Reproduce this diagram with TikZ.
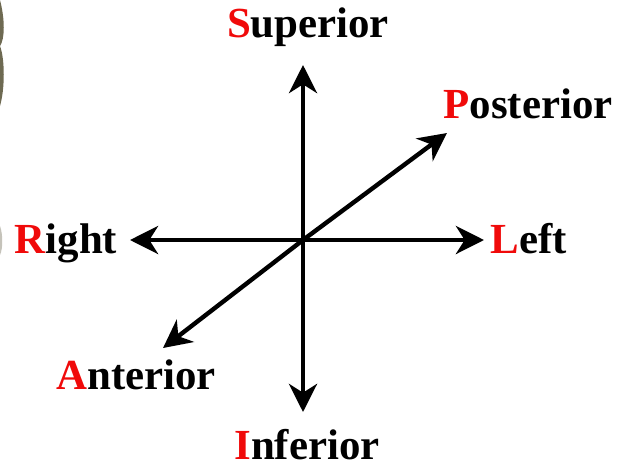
\documentclass[tikz,border=0pt]{standalone}
\usepackage{fontspec}
\setmainfont{Liberation Serif}
\definecolor{axred}{HTML}{F00A0A}
\definecolor{edgeolive}{HTML}{6E6A52}
\usetikzlibrary{arrows.meta}

\begin{document}
\begin{tikzpicture}[
      axis/.style={-{Stealth[length=8pt, width=8pt, inset=2.5pt]}, line width=1.25pt},
      lbl/.style={anchor=base, inner sep=0pt, font=\fontsize{12.2pt}{14pt}\selectfont\bfseries}
    ]
      \useasboundingbox (0,0) rectangle (6.21,4.64);
      % scraps along the left edge
      \fill[edgeolive] (0,4.64) .. controls (0.05,4.45) and (0.05,4.25) .. (0,4.18)
        .. controls (0.05,4.05) and (0.05,3.75) .. (0,3.58) -- cycle;
      \fill[edgeolive!40] (0,2.38) .. controls (0.03,2.30) and (0.03,2.15) .. (0,2.09) -- cycle;

      \coordinate (o) at (3.03,2.24);
      \coordinate (sup) at (3.03,3.99);
      \coordinate (inf) at (3.03,0.52);
      \coordinate (rgt) at (1.30,2.24);
      \coordinate (lft) at (4.84,2.24);
      \coordinate (pos) at (4.47,3.31);
      \coordinate (ant) at (1.63,1.16);

      \draw[axis] (o) -- (sup);
      \draw[axis] (o) -- (inf);
      \draw[axis] (o) -- (rgt);
      \draw[axis] (o) -- (lft);
      \draw[axis] (o) -- (pos);
      \draw[axis] (o) -- (ant);

      \node[lbl] (superior) at (3.08,4.27) {\textcolor{axred}{S}uperior};
      \node[lbl] (inferior) at (3.07,0.05) {\textcolor{axred}{I}nferior};
      \node[lbl] (right) at (0.66,2.11) {\textcolor{axred}{R}ight};
      \node[lbl] (left) at (5.29,2.11) {\textcolor{axred}{L}eft};
      \node[lbl] (posterior) at (5.28,3.46) {\textcolor{axred}{P}osterior};
      \node[lbl] (anterior) at (1.36,0.75) {\textcolor{axred}{A}nterior};
    \end{tikzpicture}
\end{document}
